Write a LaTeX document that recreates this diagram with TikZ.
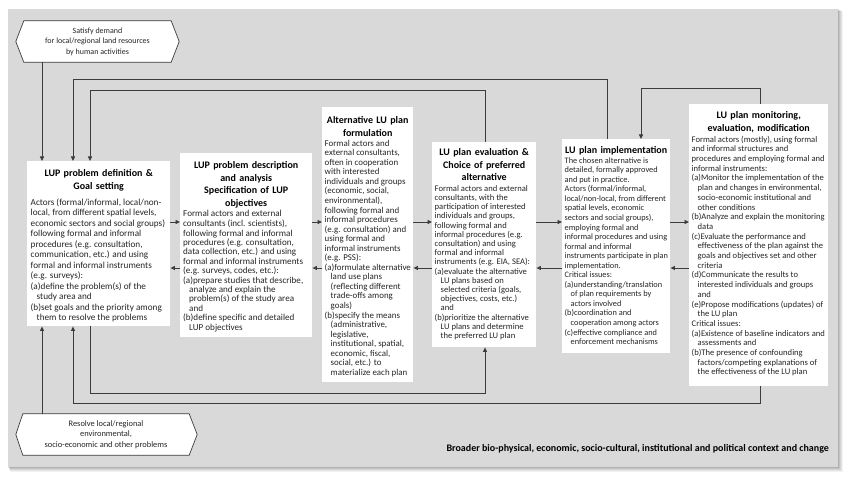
\documentclass[tikz,border=0pt]{standalone}
\usepackage{fontspec}
\setmainfont{Carlito}
\usetikzlibrary{arrows.meta,backgrounds}
\definecolor{bg}{HTML}{D9D9D9}
\definecolor{ln}{HTML}{3C3C3C}
\definecolor{tx}{HTML}{262626}
\newcommand\hi{\hspace*{6pt}}
\begin{document}
\begin{tikzpicture}[x=1pt,y=-1pt,
  box/.style={fill=white,draw=none,anchor=north west,inner sep=0pt},
  ttl/.style={anchor=north,inner sep=0pt,align=center,text=black,font=\fontsize{10}{12.5}\selectfont\bfseries},
  txt/.style={anchor=north west,inner sep=0pt,align=left,text=tx},
  conn/.style={draw=ln,line width=0.9pt},
  arr/.style={conn,-{Triangle[length=4.5pt,width=4pt]}},
  hexlbl/.style={inner sep=0pt,align=center,text=tx},
  hexshape/.style={fill=white,draw=ln,line width=0.7pt}
]
\useasboundingbox (0,0) rectangle (850,478);

% boxes
\node[box,minimum width=143,minimum height=165] (b1) at (27,161) {};
\node[box,minimum width=132,minimum height=184] (b2) at (180,153) {};
\node[box,minimum width=91,minimum height=275] (b3) at (322,107) {};
\node[box,minimum width=104,minimum height=205] (b4) at (432,142) {};
\node[box,minimum width=108,minimum height=214] (b5) at (562,139) {};
\node[box,minimum width=139,minimum height=282] (b6) at (689,104) {};

% titles
\node[ttl,text width=139] (h1) at ([yshift=-6.75pt]b1.north) {\strut LUP problem definition \&\\Goal setting\strut};
\node[ttl,text width=130] (h2) at ([yshift=-6.75pt]b2.north) {\strut LUP problem description\\and analysis\\Specification of LUP\\objectives\strut};
\node[ttl,text width=89] (h3) at ([yshift=-7.75pt]b3.north) {\strut Alternative LU plan\\formulation\strut};
\node[ttl,text width=102] (h4) at ([yshift=-4.75pt]b4.north) {\strut LU plan evaluation \&\\Choice of preferred\\alternative\strut};
\node[ttl,text width=106] (h5) at ([yshift=-5.75pt]b5.north) {\strut LU plan implementation\strut};
\node[ttl,text width=137] (h6) at ([yshift=-5.75pt]b6.north) {\strut LU plan monitoring,\\evaluation, modification\strut};

% bodies
\node[txt,font=\fontsize{9.2}{10.5}\selectfont] (t1) at ([xshift=3.5pt,yshift=-36.6pt]b1.north west) {%
\strut Actors (formal/informal, local/non-\\
local, from different spatial levels,\\
economic sectors and social groups)\\
following formal and informal\\
procedures (e.g. consultation,\\
communication, etc.) and using\\
formal and informal instruments\\
(e.g. surveys):\\
(a)define the problem(s) of the\\
\hi study area and\\
(b)set goals and the priority among\\
\hi them to resolve the problems};

\node[txt,font=\fontsize{9.1}{9.4}\selectfont] (t2) at ([xshift=3pt,yshift=-56.4pt]b2.north west) {%
\strut Formal actors and external\\
consultants (incl. scientists),\\
following formal and informal\\
procedures (e.g. consultation,\\
data collection, etc.) and using\\
formal and informal instruments\\
(e.g. surveys, codes, etc.):\\
(a)prepare studies that describe,\\
\hi analyze and explain the\\
\hi problem(s) of the study area\\
\hi and\\
(b)define specific and detailed\\
\hi LUP objectives};

\node[txt,font=\fontsize{8.9}{9.55}\selectfont] (t3) at ([xshift=2.5pt,yshift=-32.3pt]b3.north west) {%
\strut Formal actors and\\
external consultants,\\
often in cooperation\\
with interested\\
individuals and groups\\
(economic, social,\\
environmental),\\
following formal and\\
informal procedures\\
(e.g. consultation) and\\
using formal and\\
informal instruments\\
(e.g. PSS):\\
(a)formulate alternative\\
\hi land use plans\\
\hi (reflecting different\\
\hi trade-offs among\\
\hi goals)\\
(b)specify the means\\
\hi (administrative,\\
\hi legislative,\\
\hi institutional, spatial,\\
\hi economic, fiscal,\\
\hi social, etc.) to\\
\hi materialize each plan};

\node[txt,font=\fontsize{8.6}{9.2}\selectfont] (t4) at ([xshift=2.5pt,yshift=-42.6pt]b4.north west) {%
\strut Formal actors and external\\
consultants, with the\\
participation of interested\\
individuals and groups,\\
following formal and\\
informal procedures (e.g.\\
consultation) and using\\
formal and informal\\
instruments (e.g. EIA, SEA):\\
(a)evaluate the alternative\\
\hi LU plans based on\\
\hi selected criteria (goals,\\
\hi objectives, costs, etc.)\\
\hi and\\
(b)prioritize the alternative\\
\hi LU plans and determine\\
\hi the preferred LU plan};

\node[txt,font=\fontsize{8.3}{9.55}\selectfont] (t5) at ([xshift=2.5pt,yshift=-17.3pt]b5.north west) {%
\strut The chosen alternative is\\
detailed, formally approved\\
and put in practice.\\
Actors (formal/informal,\\
local/non-local, from different\\
spatial levels, economic\\
sectors and social groups),\\
employing formal and\\
informal procedures and using\\
formal and informal\\
instruments participate in plan\\
implementation.\\
Critical issues:\\
(a)understanding/translation\\
\hi of plan requirements by\\
\hi actors involved\\
(b)coordination and\\
\hi cooperation among actors\\
(c)effective compliance and\\
\hi enforcement mechanisms};

\node[txt,font=\fontsize{8.6}{9.7}\selectfont] (t6) at ([xshift=2.5pt,yshift=-31.2pt]b6.north west) {%
\strut Formal actors (mostly), using formal\\
and informal structures and\\
procedures and employing formal and\\
informal instruments:\\
(a)Monitor the implementation of the\\
\hi plan and changes in environmental,\\
\hi socio-economic institutional and\\
\hi other conditions\\
(b)Analyze and explain the monitoring\\
\hi data\\
(c)Evaluate the performance and\\
\hi effectiveness of the plan against the\\
\hi goals and objectives set and other\\
\hi criteria\\
(d)Communicate the results to\\
\hi interested individuals and groups\\
\hi and\\
(e)Propose modifications (updates) of\\
\hi the LU plan\\
Critical issues:\\
(a)Existence of baseline indicators and\\
\hi assessments and\\
(b)The presence of confounding\\
\hi factors/competing explanations of\\
\hi the effectiveness of the LU plan};

% hexagon labels
\node[hexlbl,minimum width=147,minimum height=41,font=\fontsize{8}{10.5}\selectfont] (hexT) at (97.5,41.5)
  {Satisfy demand\\for local/regional land resources\\by human activities};
\node[hexlbl,minimum width=166,minimum height=41,font=\fontsize{8.4}{10.5}\selectfont] (hexB) at (106,434.5)
  {Resolve local/regional\\environmental,\\socio-economic and other problems};

% context label
\node[anchor=base east,inner sep=0pt,font=\fontsize{10}{12}\selectfont\bfseries,text=black] (ctx) at (829,451)
  {Broader bio-physical, economic, socio-cultural, institutional and political context and change};

% connectors: external inputs
\draw[arr] (hexT.south -| 42,0) -- (b1.north -| 42,0);
\draw[arr] (hexB.north -| 42,0) -- (b1.south -| 42,0);

% forward arrows
\draw[arr] (b1.east |- 0,222) -- (b2.west |- 0,222);
\draw[arr] (b2.east |- 0,222) -- (b3.west |- 0,222);
\draw[arr] (b3.east |- 0,222) -- (b4.west |- 0,222);
\draw[arr] (b4.east |- 0,222) -- (b5.west |- 0,222);
\draw[arr] (b5.east |- 0,222) -- (b6.west |- 0,222);
% backward arrows
\draw[arr] (b2.west |- 0,268) -- (b1.east |- 0,268);
\draw[arr] (b3.west |- 0,268) -- (b2.east |- 0,268);
\draw[arr] (b4.west |- 0,268) -- (b3.east |- 0,268);
\draw[arr] (b5.west |- 0,268) -- (b4.east |- 0,268);
\draw[arr] (b6.west |- 0,268) -- (b5.east |- 0,268);

% feedback loops top
\draw[arr] (b5.north -| 607,0) |- (73,79) -- (b1.north -| 73,0);
\draw[arr] (b4.north -| 485,0) |- (90,90) -- (b1.north -| 90,0);
\draw[arr] (b6.north -| 760,0) |- (641,88) -- (b5.north -| 641,0);
% feedback loops bottom
\draw[arr] (b1.south -| 90,0) |- (485,393) -- (b4.south -| 485,0);
\draw[arr] (b6.south -| 760,0) |- (73,403) -- (b1.south -| 73,0);

\begin{scope}[on background layer]
  \foreach \i/\o in {5/0.05,4/0.06,3/0.07,2/0.08,1/0.09}{
    \fill[black,opacity=\o] (8+0.4*\i,9+0.4*\i) rectangle (838+\i,467+\i);
  }
  \fill[bg] (8,9) rectangle (838,467);
  \draw[hexshape] (hexT.north west) -- (hexT.north east) -- ([xshift=8pt]hexT.east) -- (hexT.south east)
     -- (hexT.south west) -- ([xshift=-8pt]hexT.west) -- cycle;
  \draw[hexshape] (hexB.north west) -- (hexB.north east) -- ([xshift=8pt]hexB.east) -- (hexB.south east)
     -- (hexB.south west) -- ([xshift=-7pt]hexB.west) -- cycle;
\end{scope}
\end{tikzpicture}
\end{document}
